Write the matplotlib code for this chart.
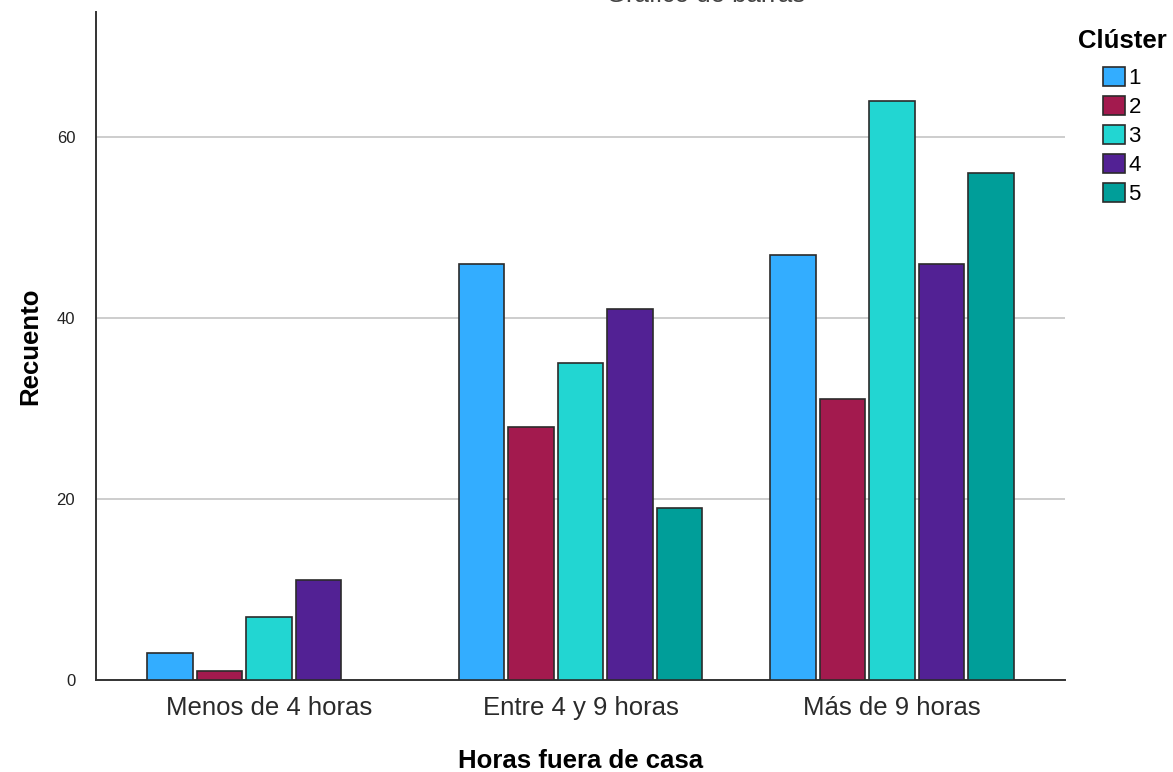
import matplotlib
matplotlib.use("Agg")
import matplotlib.pyplot as plt
import numpy as np
from matplotlib.patches import Patch

plt.rcParams['font.family'] = ['Liberation Sans', 'DejaVu Sans']

# conteos por grupo de horas y clúster
categorias = ['Menos de 4 horas', 'Entre 4 y 9 horas', 'Más de 9 horas']
clusters = ['1', '2', '3', '4', '5']
recuento = {
    '1': [3, 46, 47],
    '2': [1, 28, 31],
    '3': [7, 35, 64],
    '4': [11, 41, 46],
    '5': [0, 19, 56],
}
colores = ['#33adff', '#a31a4e', '#22d6d2', '#522194', '#009e99']

W, H = 1173, 772
fig = plt.figure(figsize=(W / 100, H / 100), dpi=100)
ax = fig.add_axes((96 / W, 1 - 680 / H, (1065 - 96) / W, (680 - 12) / H))

x = np.arange(len(categorias))
ancho = 0.146
paso = 0.159
for i, (c, col) in enumerate(zip(clusters, colores)):
    vals = np.array(recuento[c], dtype=float)
    pos = x + (i - 2) * paso
    mask = vals > 0  # los conteos nulos no se dibujan
    ax.bar(pos[mask], vals[mask], width=ancho, color=col,
           edgecolor='#2b2b2b', linewidth=1.2, zorder=3)

ax.set_xlim(-0.555, 2.555)
ax.set_ylim(0, 73.8)
ax.set_yticks([0, 20, 40, 60])
ax.set_xticks(x)
ax.set_xticklabels(categorias, fontsize=18.5, color='#2a2a2a')
ax.tick_params(axis='x', length=0, pad=11.5)
ax.tick_params(axis='y', length=0, pad=15, labelsize=12, labelcolor='#222222')
ax.yaxis.grid(True, color='#c0c0c0', linewidth=1.1, zorder=0)
ax.set_axisbelow(True)

for s in ('top', 'right'):
    ax.spines[s].set_visible(False)
for s in ('left', 'bottom'):
    ax.spines[s].set_color('#333333')
    ax.spines[s].set_linewidth(1.4)

ax.set_xlabel('Horas fuera de casa', fontsize=18.5, fontweight='bold', labelpad=21)
ax.set_ylabel('Recuento', fontsize=18.5, fontweight='bold', labelpad=10)

fig.text(706 / W, 1 - 1.5 / H, 'Gráfico de barras', fontsize=18.5, color='#444444',
         ha='center', va='baseline')

# leyenda: título aparte para controlar su posición
fig.text(1078 / W, 1 - 48 / H, 'Clúster', fontsize=18.5, fontweight='bold',
         ha='left', va='baseline')
handles = [Patch(facecolor=col, edgecolor='#2b2b2b', linewidth=1.2) for col in colores]
leg = fig.legend(handles, clusters, loc='upper left',
                 bbox_to_anchor=(1103 / W, 1 - 67 / H), frameon=False,
                 fontsize=16, handlelength=1.0, handleheight=0.95,
                 handletextpad=0.15, labelspacing=0.3, borderpad=0,
                 borderaxespad=0)

fig.savefig('out.png', dpi=100)
